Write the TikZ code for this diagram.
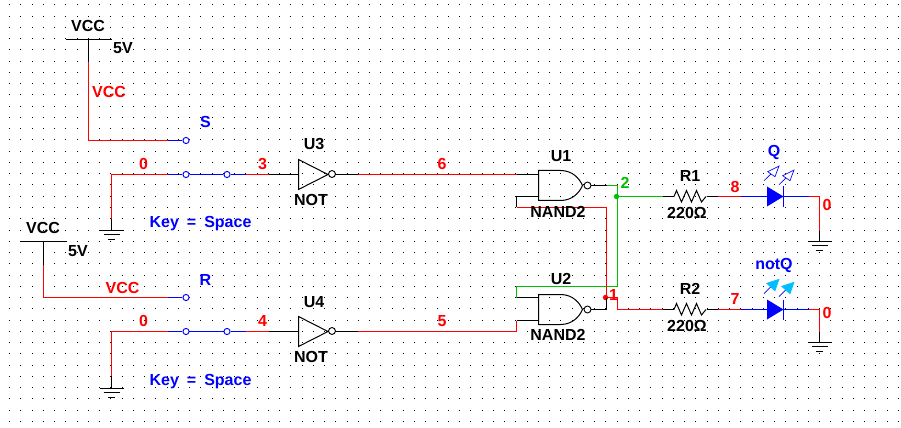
\documentclass[tikz,border=0pt]{standalone}
\usepackage{fontspec}
\setmainfont{Liberation Sans}
\definecolor{wred}{RGB}{255,0,0}
\definecolor{wblue}{RGB}{0,0,255}
\definecolor{wgreen}{RGB}{0,190,0}
\definecolor{ledon}{RGB}{0,190,255}
\tikzset{
 lbl/.style={inner sep=0pt,font=\fontsize{12pt}{13pt}\selectfont\bfseries,text=black},
 lred/.style={lbl,text=wred},
 lblue/.style={lbl,text=wblue},
 lgreen/.style={lbl,text=wgreen},
 bw/.style={draw=black,line width=0.75pt},
 rw/.style={draw=wred,line width=0.75pt},
 uw/.style={draw=wblue,line width=0.75pt},
 gw/.style={draw=wgreen,line width=0.75pt},
 contact/.style={circle,draw=wblue,fill=white,line width=0.7pt,minimum size=4.6pt,inner sep=0pt},
 bubble/.style={circle,draw=black,fill=white,line width=0.7pt,minimum size=5.2pt,inner sep=0pt},
 jdot/.style={circle,minimum size=4pt,inner sep=0pt},
 gate/.style={draw=black,line width=0.75pt,line join=miter},
}
\newcommand{\gnd}[3]{% ground symbol: x, y of top bar, name
 \draw[bw] (#1-12,#2) -- (#1+12,#2);
 \draw[bw] (#1-8,#2+4) -- (#1+8,#2+4);
 \draw[bw] (#1-3.5,#2+9) -- (#1+3.5,#2+9);
 \coordinate (#3) at (#1,#2);
}
\newcommand{\inverter}[3]{% x,y of input side, name
 \draw[gate] (#1,#2-15) -- (#1+29.5,#2) -- (#1,#2+15) -- cycle;
 \node[bubble] (#3) at (#1+33.5,#2-0.5) {};
}
\newcommand{\nandgate}[3]{% x,y centre-left, name
 \draw[gate] (#1,#2-15) -- (#1+22,#2-15) .. controls (#1+34,#2-15) and (#1+41,#2-7) .. (#1+44,#2)
   .. controls (#1+41,#2+7) and (#1+34,#2+15) .. (#1+22,#2+15) -- (#1,#2+15) -- cycle;
 \node[bubble] (#3) at (#1+49,#2) {};
}
\newcommand{\resistor}[2]{% left x, y
 \draw[gate] (#1,#2) -- ++(2.5,-6) -- ++(5,11.5) -- ++(5,-11.5) -- ++(5,11.5) -- ++(5,-11.5) -- ++(5,11.5) -- ++(4.5,-5.5);
}
\begin{document}
\begin{tikzpicture}[x=0.75pt,y=-0.75pt]
\useasboundingbox (0,0) rectangle (901,428);
\fill[white] (0,0) rectangle (901,428);
% grid
\foreach \i in {0,...,79}{\foreach \j in {0,...,37}{
 \fill[black] ({9.5+11.25*\i-0.5},{5+11.25*\j-0.5}) rectangle +(1,1);
}}
% named points
\node[contact] (s1) at (186,140.5) {};
\node[contact] (k1a) at (186,174.5) {};
\node[contact] (k1b) at (227,174.5) {};
\node[contact] (s2) at (186,297.5) {};
\node[contact] (k2a) at (186,331.5) {};
\node[contact] (k2b) at (227,331.5) {};

% VCC 1
\coordinate (v1) at (88.5,39.5);
\coordinate (v1m) at (88.5,62);
\coordinate (v1c) at (88.5,140.5);
\coordinate (v1e) at (168,140.5);
\draw[bw] (66,39.5) -- (112,39.5);
\draw[bw] (v1) -- (v1m);
\draw[rw] (v1m) -- (v1c) -- (v1e);
\draw[uw] (v1e) -- (s1);
% VCC 2
\coordinate (v2) at (43.5,241.5);
\coordinate (v2m) at (43.5,265);
\coordinate (v2c) at (43.5,297.5);
\coordinate (v2e) at (168,297.5);
\draw[bw] (21,241.5) -- (67,241.5);
\draw[bw] (v2) -- (v2m);
\draw[rw] (v2m) -- (v2c) -- (v2e);
\draw[uw] (v2e) -- (s2);

% grounds
\gnd{111.5}{230.5}{g1}
\gnd{111.5}{388.5}{g2}
\gnd{819.5}{241.5}{g3}
\gnd{819.5}{342.5}{g4}

% switch row 1
\coordinate (a1) at (111.5,219);
\coordinate (a2) at (111.5,174.5);
\coordinate (a3) at (168,174.5);
\coordinate (a4) at (246,174.5);
\coordinate (a5) at (269,174.5);
\coordinate (i1) at (298.5,174.5);
\draw[bw] (g1) -- (a1);
\draw[rw] (a1) -- (a2) -- (a3);
\draw[uw] (a3) -- (k1a) -- (k1b) -- (a4);
\draw[rw] (a4) -- (a5);
\draw[bw] (a5) -- (i1);
% switch row 2
\coordinate (b1) at (111.5,376);
\coordinate (b2) at (111.5,331.5);
\coordinate (b3) at (168,331.5);
\coordinate (b4) at (246,331.5);
\coordinate (b5) at (269,331.5);
\coordinate (i2) at (298.5,331.5);
\draw[bw] (g2) -- (b1);
\draw[rw] (b1) -- (b2) -- (b3);
\draw[uw] (b3) -- (k2a) -- (k2b) -- (b4);
\draw[rw] (b4) -- (b5);
\draw[bw] (b5) -- (i2);

% inverters
\inverter{298.5}{174.5}{n1}
\inverter{298.5}{331.5}{n2}
\coordinate (c0) at (335,174.5);
\coordinate (c1) at (358,174.5);
\coordinate (c2) at (516.5,174.5);
\coordinate (c3) at (538.5,174.5);
\draw[bw] (c0) -- (c1);
\draw[rw] (c1) -- (c2);
\draw[bw] (c2) -- (c3);
\coordinate (d0) at (335,331.5);
\coordinate (d1) at (358,331.5);
\coordinate (d2) at (516.5,331.5);
\coordinate (d3) at (516.5,320.5);
\coordinate (d4) at (538.5,320.5);
\draw[bw] (d0) -- (d1);
\draw[rw] (d1) -- (d2) -- (d3);
\draw[bw] (d3) -- (d4);

% gates
\nandgate{538.5}{185.5}{q1}
\nandgate{538.5}{309.5}{q2}

% U1 output: green net
\coordinate (e1) at (606.5,185.5);
\coordinate (e2) at (617.5,185.5);
\node[jdot,fill=wgreen] (j2) at (616.5,196.5) {};
\coordinate (e3) at (617.5,286.5);
\coordinate (e4) at (516.5,286.5);
\coordinate (e5) at (516.5,297.5);
\coordinate (e6) at (538.5,297.5);
\coordinate (e7) at (663,196.5);
\draw[bw] (q1.east) -- (e1);
\draw[gw] (e1) -- (e2) -- (e3) -- (e4) -- (e5);
\draw[bw] (e5) -- (e6);
\draw[gw] (j2) -- (e7);

% U2 output: red net
\coordinate (f1) at (538.5,196.5);
\coordinate (f2) at (516.5,196.5);
\coordinate (f3) at (516.5,207.5);
\coordinate (f4) at (606.5,207.5);
\node[jdot,fill=wred] (j1) at (605.5,297.5) {};
\coordinate (f5) at (606.5,309.5);
\coordinate (f6) at (617.5,297.5);
\coordinate (f7) at (617.5,309.5);
\coordinate (f8) at (663,309.5);
\draw[bw] (f1) -- (f2) -- (f3);
\draw[rw] (f3) -- (f4) -- (f4 |- j1);
\draw[bw] (f4 |- j1) -- (f5) -- (q2.east);
\draw[rw] (j1) -- (f6) -- (f7) -- (f8);

% resistors
\coordinate (r1a) at (674,196.5);
\coordinate (r2a) at (674,309.5);
\draw[bw] (e7) -- (r1a);
\draw[bw] (f8) -- (r2a);
\resistor{674}{196.5}
\resistor{674}{309.5}

% LED 1
\coordinate (g1a) at (706.5,196.5);
\coordinate (g1b) at (718,196.5);
\coordinate (g1c) at (741,196.5);
\coordinate (g1d) at (767,196.5);
\coordinate (g1e) at (783.5,196.5);
\coordinate (g1f) at (809,196.5);
\coordinate (g1g) at (819.5,196.5);
\coordinate (g1h) at (819.5,231);
\draw[bw] (g1a) -- (g1b);
\draw[rw] (g1b) -- (g1c);
\draw[uw] (g1c) -- (g1d);
\fill[wblue] (767,186.5) -- (783.5,196.5) -- (767,206.5) -- cycle;
\draw[uw] (783.5,186.5) -- (783.5,207);
\draw[uw] (g1e) -- (g1f);
\draw[rw] (g1f) -- (g1g) -- (g1h);
\draw[bw] (g1h) -- (g3);
% LED 2
\coordinate (h1a) at (706.5,309.5);
\coordinate (h1b) at (718,309.5);
\coordinate (h1c) at (741,309.5);
\coordinate (h1d) at (767,309.5);
\coordinate (h1e) at (783.5,309.5);
\coordinate (h1f) at (809,309.5);
\coordinate (h1g) at (819.5,309.5);
\coordinate (h1h) at (819.5,332);
\draw[bw] (h1a) -- (h1b);
\draw[rw] (h1b) -- (h1c);
\draw[uw] (h1c) -- (h1d);
\fill[wblue] (767,299.5) -- (783.5,309.5) -- (767,319.5) -- cycle;
\draw[uw] (783.5,299.5) -- (783.5,320);
\draw[uw] (h1e) -- (h1f);
\draw[rw] (h1f) -- (h1g) -- (h1h);
\draw[bw] (h1h) -- (g4);
% LED rays
\foreach \dx/\dy in {0/0,15/4}{
 \draw[wblue,line width=0.5pt] (764+\dx,180.7+\dy) -- (772+\dx,173+\dy);
 \draw[wblue,line width=0.5pt,fill=white] (767.7+\dx,171.7+\dy) -- (779+\dx,166+\dy) -- (775+\dx,176.7+\dy) -- cycle;
}
\foreach \dx/\dy in {0/0,15/3}{
 \draw[wblue,line width=0.5pt] (764+\dx,293.7+\dy) -- (772+\dx,285.7+\dy);
 \draw[ledon,line width=0.5pt,fill=ledon] (766.7+\dx,283.3+\dy) -- (779+\dx,279.3+\dy) -- (775+\dx,290.7+\dy) -- cycle;
}

% labels
\node[lbl] (t1) at (88,26) {VCC};
\node[lbl] (t2) at (123,48) {5V};
\node[lred] (t3) at (109,92) {VCC};
\node[lblue] (t4) at (205.5,122) {S};
\node[lred] (t5) at (143.5,164) {0};
\node[lred] (t6) at (262.5,164) {3};
\node[lblue] (t7) at (200.5,224) {\spaceskip=0.5em Key = Space};
\node[lbl] (t8) at (43,227.5) {VCC};
\node[lbl] (t9) at (78,251.5) {5V};
\node[lred] (t10) at (122.5,287.5) {VCC};
\node[lblue] (t11) at (205.5,280) {R};
\node[lred] (t12) at (143.5,321) {0};
\node[lred] (t13) at (262.5,321) {4};
\node[lblue] (t14) at (200.5,381.5) {\spaceskip=0.5em Key = Space};
\node[lbl] (t15) at (314,144.5) {U3};
\node[lbl] (t16) at (311,200) {NOT};
\node[lbl] (t17) at (314,302) {U4};
\node[lbl] (t18) at (311,357) {NOT};
\node[lred] (t19) at (442,164) {6};
\node[lred] (t20) at (442,321) {5};
\node[lbl] (t21) at (561,156) {U1};
\node[lbl] (t22) at (558,211.5) {NAND2};
\node[lbl] (t23) at (561,279) {U2};
\node[lbl] (t24) at (558,335) {NAND2};
\node[lgreen] (t25) at (625,183) {2};
\node[lred] (t26) at (613.5,295) {1};
\node[lbl] (t27) at (690,176) {R1};
\node[lbl] (t28) at (687,213) {220\char"03A9};
\node[lbl] (t29) at (690,288.5) {R2};
\node[lbl] (t30) at (687,325.5) {220\char"03A9};
\node[lred] (t31) at (735,186.5) {8};
\node[lred] (t32) at (735,299) {7};
\node[lblue] (t33) at (774,152.5) {Q};
\node[lblue] (t34) at (774,265) {notQ};
\node[lred] (t35) at (827,204.5) {0};
\node[lred] (t36) at (827,312.5) {0};
\end{tikzpicture}
\end{document}
